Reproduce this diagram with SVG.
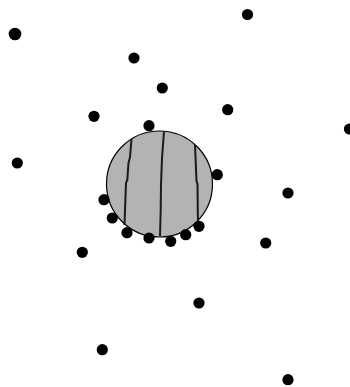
<svg xmlns="http://www.w3.org/2000/svg" width="350" height="387" viewBox="0 0 350 387">
<style>
.dot{fill:#000}
.stripe{fill:none;stroke:#1a1a1a;stroke-width:2}
</style>
<rect width="350" height="387" fill="#fff"/>
<g id="ball">
<circle cx="159.5" cy="184" r="53" fill="#b3b3b3" stroke="#000" stroke-width="1.2"/>
<polyline class="stripe" points="131.5,139 130,157 128.5,163 127.3,180 126,183 125,210 124.5,225"/>
<polyline class="stripe" points="164,131.5 162,158 161,185 160.7,210 160,236"/>
<polyline class="stripe" points="195,145 196.5,181 197.5,184 197.8,212 198,221"/>
</g>
<g id="dots">
<circle class="dot" cx="15" cy="34" r="6.3"/>
<circle class="dot" cx="247.5" cy="14.5" r="5.6"/>
<circle class="dot" cx="134" cy="58" r="5.6"/>
<circle class="dot" cx="162.3" cy="88" r="5.6"/>
<circle class="dot" cx="227.7" cy="109.7" r="5.6"/>
<circle class="dot" cx="94" cy="116.3" r="5.6"/>
<circle class="dot" cx="149" cy="125.7" r="5.6"/>
<circle class="dot" cx="349.5" cy="129" r="5.6"/>
<circle class="dot" cx="17.3" cy="163" r="5.6"/>
<circle class="dot" cx="217.3" cy="174.7" r="5.6"/>
<circle class="dot" cx="288" cy="193" r="5.6"/>
<circle class="dot" cx="104" cy="199.7" r="5.6"/>
<circle class="dot" cx="112.3" cy="218" r="5.6"/>
<circle class="dot" cx="127" cy="232.7" r="5.6"/>
<circle class="dot" cx="149" cy="238" r="5.6"/>
<circle class="dot" cx="170.7" cy="241.3" r="5.6"/>
<circle class="dot" cx="185.7" cy="234.7" r="5.6"/>
<circle class="dot" cx="199" cy="226.3" r="5.6"/>
<circle class="dot" cx="82.3" cy="252.3" r="5.6"/>
<circle class="dot" cx="265.7" cy="243" r="5.6"/>
<circle class="dot" cx="199" cy="303" r="5.6"/>
<circle class="dot" cx="102.3" cy="349.7" r="5.6"/>
<circle class="dot" cx="288" cy="379.7" r="5.6"/>
</g>
</svg>
